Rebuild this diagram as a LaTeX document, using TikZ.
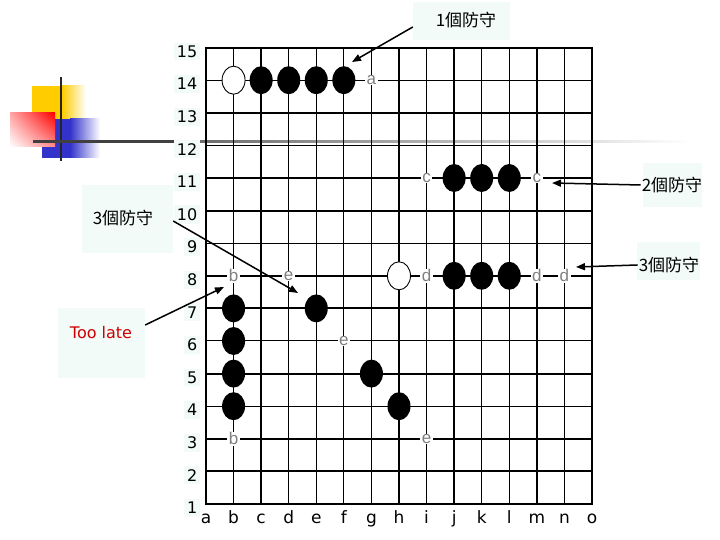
\documentclass[tikz,border=0pt]{standalone}
\usepackage{fontspec}
\setmainfont{DejaVu Sans}
\newfontfamily\cjk{Noto Sans CJK TC}
\newfontfamily\markfont{Liberation Sans}
\usetikzlibrary{shapes.geometric,shadings,arrows.meta,positioning,calc}
\definecolor{pale}{HTML}{F3FBF9}
\definecolor{markgray}{HTML}{808080}
\definecolor{latered}{HTML}{CC0000}
\definecolor{logoyellow}{HTML}{FFCC00}
\definecolor{logoblue}{HTML}{3333CC}
\tikzset{
    thinline/.style   = {line width=1pt, draw=black},
    thickline/.style  = {line width=2pt, draw=black, line cap=rect},
    blackstone/.style = {ellipse, fill=black, minimum width=23pt, minimum height=28pt, inner sep=0pt},
    whitestone/.style = {blackstone, fill=white, draw=black, line width=0.9pt},
    ptlabel/.style    = {fill=white, text=markgray, inner xsep=1.5pt, inner ysep=0.5pt, font=\markfont\fontsize{17}{17}\selectfont},
    rowlabel/.style   = {fill=pale, inner sep=3pt, anchor=east, font=\fontsize{16}{16}\selectfont},
    collabel/.style   = {inner sep=1pt, anchor=base, font=\fontsize{17}{17}\selectfont},
    callbox/.style    = {fill=pale, inner sep=0pt},
    calltext/.style   = {inner sep=1pt, font=\cjk\fontsize{17}{17}\selectfont},
    pointer/.style    = {-{Triangle[length=9pt, width=7pt]}, line width=1.5pt, draw=black}
}

\begin{document}
\begin{tikzpicture}[x=1pt, y=1pt,
    latetext/.style={inner sep=1pt, text=latered, font=\fontsize{16}{16}\selectfont}
]
    \def\dx{27.57}
    \def\dy{32.6}
    \useasboundingbox (0,0) rectangle (720,540);
    \fill[white] (0,0) rectangle (720,540);
    % template logo
    \fill[logoyellow] (32,421) rectangle (62,454);
    \shade[left color=logoyellow, right color=white] (62,421) rectangle (86,454);
    \fill[logoblue] (42,382) rectangle (70,421);
    \shade[left color=logoblue, right color=white] (70,382) rectangle (100,421);
    \shade[upper right=red, upper left=red!35, lower right=red!45, lower left=white] (10,393) rectangle (55,427);
    \draw[line width=2.5pt, draw=black!85] (61,379) -- (61,463);
    \draw[line width=2.5pt, draw=black!75] (33,398.5) -- (178,398.5);
    \shade[left color=black!60, right color=white] (178,397.2) rectangle (690,399.8);
    % board
    \begin{scope}[shift={(206pt,36pt)}, x=\dx pt, y=\dy pt]
        \foreach \c in {1,3,4,5,6,8,10,11,13} \draw[thinline] (\c,0) -- (\c,14);
        \foreach \r in {3,5,8,11,13} \draw[thinline] (0,\r) -- (14,\r);
        \foreach \c in {0,2,7,9,12,14} \draw[thickline] (\c,0) -- (\c,14);
        \foreach \r in {0,1,2,4,6,7,9,10,12,14} \draw[thickline] (0,\r) -- (14,\r);
        \foreach \r in {1,...,15} \node[rowlabel] (row\r) at (-0.2, \r-1.12) {\r};
        \foreach \l [count=\i from 0] in {a,...,o} \node[collabel] (col\l) at (\i, -0.6) {\l};
        % stones
        \node[whitestone] (b14) at (1,13) {};
        \foreach \c/\n in {2/c,3/d,4/e,5/f} \node[blackstone] (\n14) at (\c,13) {};
        \foreach \c/\n in {9/j,10/k,11/l} \node[blackstone] (\n11) at (\c,10) {};
        \node[whitestone] (h8) at (7,7) {};
        \foreach \c/\n in {9/j,10/k,11/l} \node[blackstone] (\n8) at (\c,7) {};
        \foreach \r in {4,5,6,7} \node[blackstone] (b\r) at (1,\r-1) {};
        \node[blackstone] (e7) at (4,6) {};
        \node[blackstone] (g5) at (6,4) {};
        \node[blackstone] (h4) at (7,3) {};
        % marked points
        \node[ptlabel] (p-g14) at (6,13) {a};
        \node[ptlabel] (p-i11) at (8,10) {c};
        \node[ptlabel] (p-m11) at (12,10) {c};
        \node[ptlabel] (p-b8)  at (1,7)  {b};
        \node[ptlabel] (p-d8)  at (3,7)  {e};
        \node[ptlabel] (p-i8)  at (8,7)  {d};
        \node[ptlabel] (p-m8)  at (12,7) {d};
        \node[ptlabel] (p-n8)  at (13,7) {d};
        \node[ptlabel] (p-f6)  at (5,5)  {e};
        \node[ptlabel] (p-b3)  at (1,2)  {b};
        \node[ptlabel] (p-i3)  at (8,2)  {e};
    \end{scope}
    % callouts
    \node[callbox, minimum width=97pt, minimum height=38pt] (box1) at (461.5,519) {};
    \node[calltext] (t1) at (466,520) {1個防守};
    \node[callbox, minimum width=59pt, minimum height=44pt] (box2) at (672.5,355) {};
    \node[calltext] (t2) at (672,355) {2個防守};
    \node[callbox, minimum width=63pt, minimum height=38pt] (box3) at (668.5,279) {};
    \node[calltext] (t3) at (669,275) {3個防守};
    \node[callbox, minimum width=91pt, minimum height=68pt] (box4) at (127.5,321) {};
    \node[calltext] (t4) at (123,322) {3個防守};
    \node[callbox, minimum width=87pt, minimum height=70pt] (box5) at (101.5,197) {};
    \node[latetext] (t5) at (101,207) {Too late};
    \coordinate (tip1) at (352,478);
    \coordinate (tip2) at (552,357);
    \coordinate (tip3) at (576,273);
    \coordinate (tip4) at (298,247);
    \coordinate (tip5) at (224,253);
    \draw[pointer] ([yshift=-6pt]box1.west) -- (tip1);
    \draw[pointer] (t2.west) -- (tip2);
    \draw[pointer] (t3.west) -- (tip3);
    \draw[pointer] ([yshift=-2pt]box4.east) -- (tip4);
    \draw[pointer] ([yshift=18pt]box5.east) -- (tip5);
\end{tikzpicture}
\end{document}
